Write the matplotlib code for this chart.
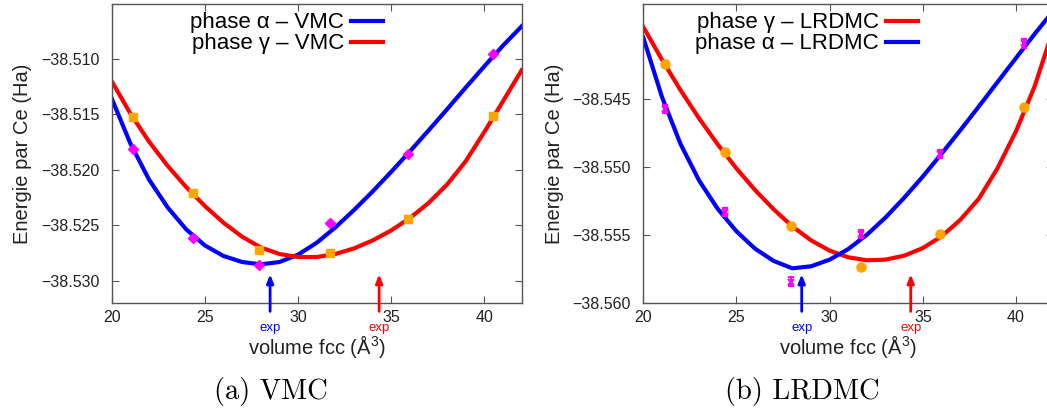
#!/usr/bin/env python3

# Energie par Ce vs volume fcc, phases alpha et gamma (VMC et LRDMC).

import matplotlib
matplotlib.use("Agg")
import matplotlib.pyplot as plt
from matplotlib.ticker import FuncFormatter

plt.rcParams['font.family'] = ['Liberation Sans', 'DejaVu Sans']
plt.rcParams['mathtext.fontset'] = 'custom'
plt.rcParams['mathtext.rm'] = 'Liberation Sans'
plt.rcParams['mathtext.it'] = 'Liberation Sans:italic'

# volumes of the computed points (A^3)
vol_pts = [21.15, 24.37, 27.9, 31.7, 35.92, 40.45]

# VMC points
vmc_alpha_pts = [-38.5181, -38.5261, -38.5286, -38.5248, -38.5186, -38.5096]
vmc_gamma_pts = [-38.5153, -38.5221, -38.5272, -38.5275, -38.5244, -38.5152]

vmc_fit_vol = [20, 21, 22, 23, 24, 25, 26, 27, 28, 29, 30, 31,
               32, 33, 34, 35, 36, 37, 38, 39, 40, 41, 42]
vmc_alpha_fit = [-38.51359, -38.51763, -38.52087, -38.52338, -38.52536, -38.52680,
                 -38.52775, -38.52829, -38.52850, -38.52829, -38.52763, -38.52656,
                 -38.52518, -38.52362, -38.52195, -38.52018, -38.51835, -38.51647,
                 -38.51455, -38.51260, -38.51069, -38.50883, -38.50710]
vmc_gamma_fit = [-38.51204, -38.51494, -38.51746, -38.51964, -38.52156, -38.52326,
                 -38.52476, -38.52602, -38.52698, -38.52757, -38.52784, -38.52784,
                 -38.52757, -38.52707, -38.52635, -38.52545, -38.52434, -38.52299,
                 -38.52132, -38.51922, -38.51659, -38.51383, -38.51105]

# LRDMC points
lrdmc_alpha_pts = [-38.5457, -38.5533, -38.5584, -38.5549, -38.5490, -38.5409]
lrdmc_gamma_pts = [-38.5424, -38.5489, -38.5543, -38.5573, -38.5549, -38.5456]

# LRDMC fitted curves
lrdmc_fit_vol = [20, 21, 22, 23, 24, 25, 26, 27, 28, 29, 30, 31,
                 32, 33, 34, 35, 36, 37, 38, 39, 40, 41, 41.75]
lrdmc_alpha_fit = [-38.54047, -38.54483, -38.54830, -38.55099, -38.55307, -38.55471,
                   -38.55599, -38.55689, -38.55743, -38.55728, -38.55679, -38.55601,
                   -38.55496, -38.55369, -38.55224, -38.55068, -38.54901, -38.54730,
                   -38.54554, -38.54375, -38.54197, -38.54020, -38.53893]
lrdmc_gamma_fit = [-38.53969, -38.54209, -38.54434, -38.54642, -38.54833, -38.55009,
                   -38.55168, -38.55310, -38.55435, -38.55537, -38.55613, -38.55662,
                   -38.55684, -38.55679, -38.55650, -38.55594, -38.55508, -38.55388,
                   -38.55232, -38.55009, -38.54735, -38.54405, -38.54091]

# experimental volumes
exp_alpha_vol = 28.5
exp_gamma_vol = 34.35

xticks = [20, 25, 30, 35, 40]
vmc_yticks = [-38.530, -38.525, -38.520, -38.515, -38.510]
lrdmc_yticks = [-38.560, -38.555, -38.550, -38.545]

BLUE = '#0000ff'
RED = '#ff0000'
ORANGE = '#ffa500'
MAGENTA = '#ff00ff'
FRAME = '#555555'

W, H = 1047, 416
fig = plt.figure(figsize=(W / 100, H / 100), dpi=100)


def px_axes(left, top, width, height):
    return fig.add_axes([left / W, 1 - (top + height) / H, width / W, height / H])


def setup(ax, ylim, yticks):
    ax.set_xlim(20, 42)
    ax.set_ylim(*ylim)
    ax.set_xticks(xticks)
    ax.set_yticks(yticks)
    ax.yaxis.set_major_formatter(
        FuncFormatter(lambda v, p: ('%.3f' % v).replace('-', '\u2212')))
    for sp in ax.spines.values():
        sp.set_color(FRAME)
        sp.set_linewidth(1.0)
    ax.tick_params(direction='in', length=5, width=0.8, color=FRAME,
                   top=True, right=True, labelsize=11.5, labelcolor='#222222')
    ax.tick_params(axis='y', pad=9)
    ax.tick_params(axis='x', pad=5)
    ax.set_ylabel('Energie par Ce (Ha)', fontsize=14.5, color='#222222')
    ax.yaxis.set_label_coords(-0.194, 0.5)
    ax.set_xlabel(r'volume fcc (Å$^3$)', fontsize=14.5, color='#222222')
    ax.xaxis.set_label_coords(0.5, -0.1)
    ax.xaxis.label.set_va('top')


def exp_arrows(ax):
    for v, c in ((exp_alpha_vol, BLUE), (exp_gamma_vol, RED)):
        ax.annotate('', xy=(v, 0.097), xytext=(v, -0.027),
                    xycoords=('data', 'axes fraction'),
                    textcoords=('data', 'axes fraction'),
                    arrowprops=dict(arrowstyle='-|>,head_length=0.5,head_width=0.2',
                                    color=c, lw=2, shrinkA=0, shrinkB=0),
                    annotation_clip=False)
        ax.text(v, -0.081, 'exp', color=c, fontsize=9.5, ha='center', va='center',
                transform=ax.get_xaxis_transform(), clip_on=False)


def legend(ax, x_right):
    ax.legend(loc='upper right', bbox_to_anchor=(x_right, 0.972), frameon=False,
              markerfirst=False, fontsize=16, handlelength=1.45, handletextpad=0.3,
              labelspacing=0.0, borderpad=0, borderaxespad=0)


# (a) VMC
ax1 = px_axes(111.7, 4, 410, 299.3)
ax1.plot(vmc_fit_vol, vmc_alpha_fit, color=BLUE, lw=3, solid_joinstyle='round',
         label='phase α – VMC')
ax1.plot(vmc_fit_vol, vmc_gamma_fit, color=RED, lw=3, solid_joinstyle='round',
         label='phase γ – VMC')
ax1.errorbar(vol_pts, vmc_gamma_pts, yerr=0.0001, fmt='s', color=ORANGE,
             ms=6, mec=ORANGE, elinewidth=1.5, zorder=5)
ax1.errorbar(vol_pts, vmc_alpha_pts, yerr=0.0002, fmt='D', color=MAGENTA,
             ms=5.5, mec=MAGENTA, elinewidth=1.5, zorder=5)
setup(ax1, (-38.532, -38.5051), vmc_yticks)
exp_arrows(ax1)
legend(ax1, 0.662)

# (b) LRDMC
ax2 = px_axes(643.3, 4, 410, 299.3)
ax2.plot(lrdmc_fit_vol, lrdmc_gamma_fit, color=RED, lw=3, solid_joinstyle='round',
         label='phase γ – LRDMC')
ax2.plot(lrdmc_fit_vol, lrdmc_alpha_fit, color=BLUE, lw=3, solid_joinstyle='round',
         label='phase α – LRDMC')
ax2.errorbar(vol_pts, lrdmc_gamma_pts, yerr=0.00025, fmt='o', color=ORANGE,
             ms=6.5, mec=ORANGE, elinewidth=1.5, capsize=2, zorder=5)
ax2.errorbar(vol_pts, lrdmc_alpha_pts, yerr=0.0003, fmt='x', color=MAGENTA,
             ms=5, mew=1.5, elinewidth=1.5, capsize=2.5, zorder=5)
setup(ax2, (-38.560, -38.538), lrdmc_yticks)
exp_arrows(ax2)
legend(ax2, 0.67)

# sub-figure captions
fig.text(271 / W, 1 - 392 / H, '(a) VMC', family='cmr10', fontsize=20.5,
         ha='center', va='center')
fig.text(802.5 / W, 1 - 392 / H, '(b) LRDMC', family='cmr10', fontsize=20.5,
         ha='center', va='center')

fig.savefig('out.png', dpi=100)
